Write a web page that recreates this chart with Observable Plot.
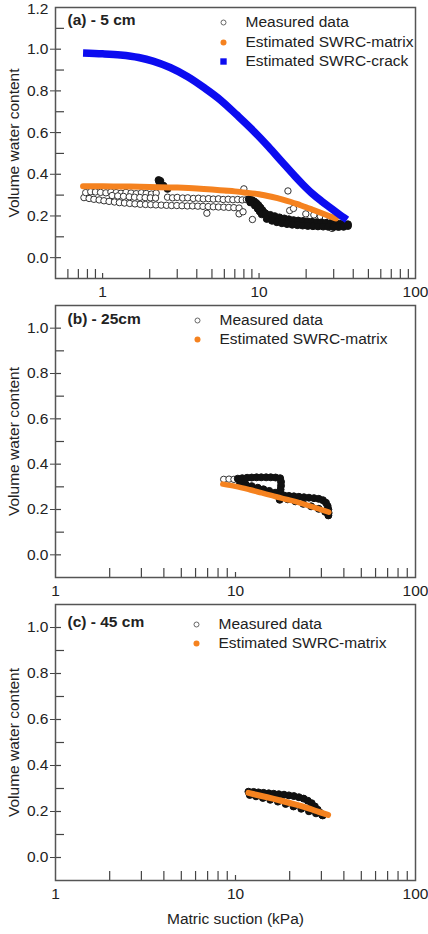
<!DOCTYPE html>
<html>
<head>
<meta charset="utf-8">
<script src="https://cdn.jsdelivr.net/npm/d3@7"></script>
<script src="https://cdn.jsdelivr.net/npm/@observablehq/plot@0.6"></script>
<style>
  body { margin: 0; background: #fff; }
  #chart { width: 428px; height: 934px; }
  #chart svg { display: block; }
  #chart svg text { font-family: "Liberation Sans", Arial, sans-serif; }
</style>
</head>
<body>
<div id="chart"></div>
<script>
const FONT = "Liberation Sans, Arial, sans-serif";
const INK = "#222";
const ORANGE = "#f5821f";
const BLUE = "#0c0cf0";
const FS = 15.5;

// Axis ticks
const yMajorA = [0, 0.2, 0.4, 0.6, 0.8, 1.0];
const yTopA = [1.2];
const yMinorA = [0.1, 0.3, 0.5, 0.7, 0.9, 1.1];
const yMajorBC = [0, 0.2, 0.4, 0.6, 0.8, 1.0];
const yMinorBC = [0.1, 0.3, 0.5, 0.7, 0.9];
const xLabels = [1, 10, 100];
const xDecadeA = [1, 10];
const xMinorA = [0.6, 0.7, 0.8, 0.9, 2, 3, 4, 5, 6, 7, 8, 9, 20, 30, 40, 50, 60, 70, 80, 90];
const xDecadeBC = [10];
const xMinorBC = [2, 3, 4, 5, 6, 7, 8, 9, 20, 30, 40, 50, 60, 70, 80, 90];

// Legend entries
const legendA = ["Measured data", "Estimated SWRC-matrix", "Estimated SWRC-crack"];
const legendBC = ["Measured data", "Estimated SWRC-matrix"];

// (a) 5 cm — [matric suction kPa, volumetric water content]
const measuredA = [
  [0.76, 0.288], [0.82, 0.284], [0.88, 0.28], [0.95, 0.277], [1.02, 0.273], [1.1, 0.27],
  [1.19, 0.267], [1.28, 0.264], [1.38, 0.262], [1.49, 0.26], [1.61, 0.258], [1.74, 0.256],
  [1.88, 0.255], [2.03, 0.254], [2.19, 0.253], [2.37, 0.252], [2.56, 0.251], [2.76, 0.25],
  [2.98, 0.25], [3.22, 0.249], [3.48, 0.248], [3.76, 0.248], [4.06, 0.247], [4.38, 0.246],
  [4.73, 0.245], [5.1, 0.244], [5.5, 0.243], [5.95, 0.242], [6.4, 0.241], [6.9, 0.24], [7.45, 0.238],
  [0.78, 0.312], [0.84, 0.316], [0.9, 0.315], [0.97, 0.313], [1.05, 0.311], [1.13, 0.315],
  [1.22, 0.312], [1.31, 0.309], [1.41, 0.313], [1.52, 0.31], [1.64, 0.307], [1.77, 0.311],
  [1.9, 0.308], [2.05, 0.305], [2.2, 0.31],
  [1.15, 0.298], [1.25, 0.296], [1.36, 0.294], [1.48, 0.292], [1.6, 0.29], [1.73, 0.289],
  [1.87, 0.288], [2.02, 0.287], [2.18, 0.286], [2.6, 0.29], [2.8, 0.287], [3.0, 0.289],
  [3.25, 0.286], [3.5, 0.287], [3.8, 0.284], [4.1, 0.285], [4.4, 0.282], [4.75, 0.283],
  [5.1, 0.281], [5.5, 0.282], [5.9, 0.279], [6.35, 0.28], [6.8, 0.278], [7.3, 0.279],
  [7.8, 0.277], [8.3, 0.278],
  [8.0, 0.33], [15.3, 0.32], [15.7, 0.226], [16.6, 0.236], [19.9, 0.21], [22.4, 0.205],
  [24.7, 0.197], [26.6, 0.19], [9.07, 0.183], [29.3, 0.14], [7.45, 0.21], [4.64, 0.213],
  [7.9, 0.22], [28.5, 0.19]
];
// (a) overlapping runs of readings that print as solid black
const measuredDenseA = [
  [2.28, 0.372], [2.34, 0.368], [2.31, 0.36], [2.45, 0.345], [2.6, 0.33],
  [8.6, 0.28], [9.0, 0.276], [9.3, 0.27], [9.6, 0.262], [9.9, 0.252], [10.2, 0.24],
  [10.5, 0.228], [10.8, 0.216], [9.4, 0.25], [9.8, 0.235], [10.1, 0.222], [10.4, 0.208], [8.8, 0.265],
  [11, 0.212], [11.8, 0.205], [12.6, 0.199], [13.5, 0.193], [14.5, 0.188], [15.5, 0.184],
  [16.6, 0.18], [17.8, 0.178], [19.1, 0.176], [20.4, 0.174], [21.8, 0.172], [23.3, 0.17],
  [25, 0.169], [26.8, 0.167], [28.7, 0.166], [30.7, 0.164], [32.8, 0.163], [35, 0.161], [37, 0.16],
  [11.2, 0.186], [12.1, 0.177], [13, 0.17], [14, 0.165], [15.1, 0.161], [16.3, 0.158],
  [17.6, 0.156], [19, 0.154], [20.5, 0.152], [22.1, 0.151], [23.8, 0.15], [25.7, 0.149],
  [27.7, 0.148], [29.9, 0.147], [32.2, 0.147], [34.7, 0.148], [37, 0.152]
];
const matrixA = [
  [0.75, 0.343], [1, 0.342], [1.5, 0.341], [2, 0.339], [3, 0.336], [4, 0.332], [5, 0.327],
  [6, 0.322], [7, 0.318], [8, 0.313], [10, 0.304], [12, 0.292], [14, 0.28], [16, 0.267],
  [18, 0.254], [20, 0.242], [22, 0.23], [25, 0.214], [28, 0.2], [31, 0.188]
];
const crackA = [
  [0.75, 0.982], [1.0, 0.978], [1.3, 0.972], [1.7, 0.96], [2.1, 0.943], [2.7, 0.912],
  [3.5, 0.868], [4.5, 0.813], [5.7, 0.755], [7.2, 0.685], [9.3, 0.605], [11.5, 0.532],
  [14, 0.46], [17, 0.39], [19, 0.352], [22, 0.306], [25, 0.272], [28, 0.244], [32, 0.212], [36.5, 0.182]
];

// (b) 25 cm
const measuredB = [[8.6, 0.333], [9.2, 0.334], [9.8, 0.333]];
const measuredDenseB = [
  [10.3, 0.336], [10.9, 0.338], [11.6, 0.34], [12.3, 0.341], [13.1, 0.342], [13.9, 0.342],
  [14.8, 0.342], [15.7, 0.342], [16.7, 0.341], [17.7, 0.338],
  [17.9, 0.322], [17.9, 0.305], [17.8, 0.288], [17.8, 0.27], [17.7, 0.252], [17.6, 0.243],
  [10.6, 0.316], [11.4, 0.31], [12.3, 0.303], [13.3, 0.296], [14.3, 0.289], [15.4, 0.282], [16.6, 0.274],
  [18.6, 0.262], [19.8, 0.26], [21.1, 0.258], [22.5, 0.256], [24, 0.254], [25.6, 0.252],
  [27.3, 0.25], [29, 0.247], [30.6, 0.241], [31.8, 0.23], [32.5, 0.215], [32.8, 0.2],
  [32.9, 0.185], [32.8, 0.174],
  [19.5, 0.245], [21.5, 0.236], [23.8, 0.225], [26.3, 0.214], [29, 0.203], [31.5, 0.19]
];
const matrixB = [
  [8.5, 0.312], [10, 0.302], [12, 0.287], [14, 0.273], [16, 0.261], [18, 0.25], [20, 0.241],
  [23, 0.228], [26, 0.215], [29, 0.203], [33, 0.188]
];

// (c) 45 cm
const measuredC = [];
const measuredDenseC = [
  [11.8, 0.286], [12.6, 0.285], [13.4, 0.283], [14.3, 0.281], [15.3, 0.279], [16.3, 0.277],
  [17.4, 0.275], [18.6, 0.273], [19.8, 0.27], [21.1, 0.267], [22.5, 0.262], [23.9, 0.256],
  [25.2, 0.247], [26.5, 0.236], [27.6, 0.222], [28.6, 0.208], [29.5, 0.195], [30.3, 0.185],
  [12, 0.272], [13, 0.266], [14.2, 0.259], [15.6, 0.251], [17.2, 0.243], [19, 0.233],
  [21, 0.222], [23.2, 0.212], [25.6, 0.201], [28, 0.192], [30.5, 0.183]
];
const matrixC = [
  [11.8, 0.281], [13, 0.273], [15, 0.262], [17.5, 0.249], [20, 0.237], [23, 0.224],
  [26, 0.211], [29, 0.198], [32.7, 0.185]
];

const X = d => d[0], Y = d => d[1];

function panel(o) {
  const width = 428, marginLeft = 55, marginRight = 13;
  const innerW = width - marginLeft - marginRight;
  const innerH = o.height - o.marginTop - o.marginBottom;
  const text = {fill: INK, stroke: null, fontFamily: FONT};
  const yAxisStyle = {tickPadding: 2, stroke: "#444", fill: INK, fontSize: FS, fontFamily: FONT, tickFormat: d3.format(".1f")};
  const marks = [
    // inward minor ticks and short decade ticks
    Plot.tickX(o.xMinor, {x: d => d, stroke: "#444", strokeWidth: 1.2, insetTop: innerH - 9}),
    Plot.tickX(o.xDecade, {x: d => d, stroke: "#444", strokeWidth: 1.2, insetTop: innerH - 5}),
    Plot.tickY(o.yMinor, {y: d => d, stroke: "#444", strokeWidth: 1.2, insetRight: innerW - 9}),
    Plot.tickY(o.yMajor, {y: d => d, stroke: "#444", strokeWidth: 1.2, insetRight: innerW - 6}),
    Plot.axisY(o.yMajor, {
      tickSize: 5, ...yAxisStyle,
      label: "Volume water content", labelAnchor: "center", labelOffset: 48, labelArrow: false
    }),
    o.yTop ? Plot.axisY(o.yTop, {tickSize: 0, ...yAxisStyle, tickPadding: 7, dy: 2, label: null}) : null,
    Plot.axisX(xLabels, {tickSize: 0, tickPadding: 7, fill: INK, fontSize: FS, fontFamily: FONT,
      tickFormat: d => String(d), label: null}),
    // measurements
    Plot.dot(o.measured, {x: X, y: Y, r: 3.2, stroke: "#333", strokeWidth: 1, fill: "white"}),
    Plot.dot(o.dense, {x: X, y: Y, r: 3.5, stroke: "#111", strokeWidth: 1, fill: "#111"}),
    // fitted curves
    Plot.line(o.matrix, {x: X, y: Y, stroke: ORANGE, strokeWidth: o.matrixWidth, curve: "monotone-x", strokeLinecap: "round"}),
    o.crack ? Plot.line(o.crack, {x: X, y: Y, stroke: BLUE, strokeWidth: 7.5, curve: "monotone-x", strokeLinecap: "butt"}) : null,
    Plot.frame({stroke: "#555", strokeWidth: 1.5}),
    // panel title
    Plot.text([o.title], {frameAnchor: "top-left", dx: 12, dy: o.titleDy, text: d => d, textAnchor: "start",
      lineAnchor: "middle", fontWeight: "bold", fontSize: FS, ...text}),
    // legend
    Plot.dot([0], {frameAnchor: "top-left", dx: o.legDx, dy: o.legRows[0], r: 2.5, stroke: "#666", strokeWidth: 1, fill: "white"}),
    Plot.dot([0], {frameAnchor: "top-left", dx: o.legDx, dy: o.legRows[1], r: 3, fill: ORANGE, stroke: null}),
    ...o.legend.map((s, i) => Plot.text([s], {frameAnchor: "top-left", dx: o.legDx + 22, dy: o.legRows[i],
      text: d => d, textAnchor: "start", lineAnchor: "middle", fontSize: FS, ...text}))
  ];
  if (o.crack) {
    marks.push(Plot.dot([0], {frameAnchor: "top-left", dx: o.legDx, dy: o.legRows[2], symbol: "square", r: 3.6, fill: BLUE, stroke: null}));
  }
  if (o.xTitle) {
    marks.push(Plot.text([o.xTitle], {frameAnchor: "bottom", dy: 39, text: d => d, lineAnchor: "middle", fontSize: FS, ...text}));
  }
  return Plot.plot({
    width, height: o.height, marginLeft, marginRight, marginTop: o.marginTop, marginBottom: o.marginBottom,
    style: {fontFamily: FONT, fontSize: FS + "px", color: INK, background: "white"},
    x: {type: "log", domain: o.xDomain, axis: null},
    y: {domain: o.yDomain, axis: null},
    marks: marks.filter(Boolean)
  });
}

const chart = document.getElementById("chart");
chart.append(panel({
  height: 300, marginTop: 7, marginBottom: 22, xDomain: [0.5, 100], yDomain: [-0.1, 1.2],
  yMajor: yMajorA, yTop: yTopA, yMinor: yMinorA, xDecade: xDecadeA, xMinor: xMinorA,
  measured: measuredA, dense: measuredDenseA, matrix: matrixA, matrixWidth: 6, crack: crackA,
  title: "(a) - 5 cm", titleDy: 13, legend: legendA, legDx: 168, legRows: [15, 35, 54]
}));
chart.append(panel({
  height: 300, marginTop: 5, marginBottom: 23, xDomain: [1, 100], yDomain: [-0.1, 1.1],
  yMajor: yMajorBC, yMinor: yMinorBC, xDecade: xDecadeBC, xMinor: xMinorBC,
  measured: measuredB, dense: measuredDenseB, matrix: matrixB, matrixWidth: 5.5,
  title: "(b) - 25cm", titleDy: 14, legend: legendBC, legDx: 142, legRows: [15, 34]
}));
chart.append(panel({
  height: 334, marginTop: 4, marginBottom: 54, xDomain: [1, 100], yDomain: [-0.1, 1.1],
  yMajor: yMajorBC, yMinor: yMinorBC, xDecade: xDecadeBC, xMinor: xMinorBC,
  measured: measuredC, dense: measuredDenseC, matrix: matrixC, matrixWidth: 6,
  title: "(c) - 45 cm", titleDy: 18, legend: legendBC, legDx: 141, legRows: [20, 39],
  xTitle: "Matric suction (kPa)"
}));
</script>
</body>
</html>
